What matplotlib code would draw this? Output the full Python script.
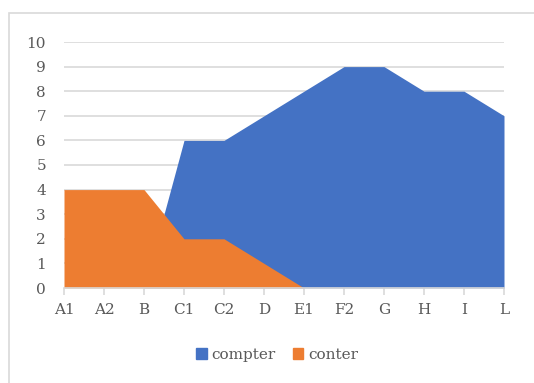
import matplotlib
matplotlib.use("Agg")
import matplotlib.pyplot as plt
from matplotlib.patches import Rectangle, Patch

categories = ["A1", "A2", "B", "C1", "C2", "D", "E1", "F2", "G", "H", "I", "L"]
compter = [0, 0, 0, 6, 6, 7, 8, 9, 9, 8, 8, 7]
conter = [4, 4, 4, 2, 2, 1, 0, 0, 0, 0, 0, 0]

blue = "#4472C4"
orange = "#ED7D31"
txt = "#595959"
plt.rcParams["font.family"] = ["DejaVu Serif"]

W, H = 534, 383
fig = plt.figure(figsize=(W / 100, H / 100), dpi=100)
fig.patches.append(Rectangle((9 / W, -0.1), 1.2, 1 - 13 / H + 0.1, transform=fig.transFigure,
                             fill=False, edgecolor="#d9d9d9", linewidth=1.2))

ax = fig.add_axes([64 / W, 1 - 288 / H, (504 - 64) / W, (288 - 42) / H])
x = range(len(categories))
ax.fill_between(x, compter, 0, color=blue, linewidth=0, zorder=2)
ax.fill_between(x, conter, 0, color=orange, linewidth=0, zorder=3)

ax.set_xlim(0, len(categories) - 1)
ax.set_ylim(0, 10)
ax.set_yticks(range(0, 11))
ax.set_xticks(list(x))
ax.set_xticklabels(categories)
ax.grid(axis="y", color="#d9d9d9", linewidth=1.2, zorder=0)
ax.set_axisbelow(True)
for s in ["top", "right", "left"]:
    ax.spines[s].set_visible(False)
ax.spines["bottom"].set_color("#d9d9d9")
ax.spines["bottom"].set_linewidth(1.2)
ax.spines["bottom"].set_zorder(4)
ax.tick_params(axis="y", length=0, pad=13, labelsize=11, labelcolor=txt)
ax.tick_params(axis="x", length=5, width=1.2, color="#d9d9d9", pad=6, labelsize=11, labelcolor=txt)

handles = [Patch(color=blue, label="compter"), Patch(color=orange, label="conter")]
fig.legend(handles=handles, loc="center", bbox_to_anchor=(277 / W, 1 - 355 / H), ncol=2,
           frameon=False, handlelength=0.7, handleheight=0.7, handletextpad=0.3,
           columnspacing=1.1, prop={"size": 11}, labelcolor=txt)

fig.savefig("out.png", dpi=100)
